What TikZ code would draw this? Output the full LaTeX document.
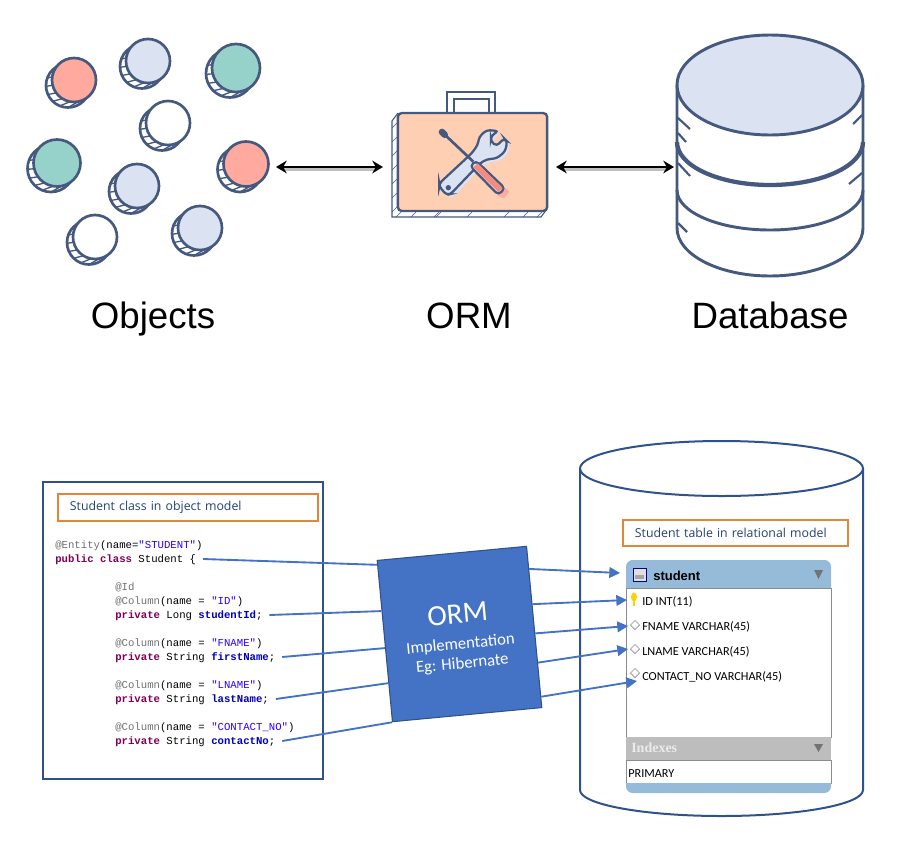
\documentclass[tikz,border=0pt]{standalone}
\usepackage{fontspec}
\setmainfont{Liberation Sans}
\setmonofont{Liberation Mono}
\newfontfamily\uifont{Open Sans}
\newfontfamily\slidefont{Carlito}
\newfontfamily\idxfont{Liberation Serif}
\usetikzlibrary{shapes.geometric, arrows.meta, calc}
\definecolor{sketch}{HTML}{45597F}
\definecolor{peri}{HTML}{DBE2F2}
\definecolor{salmon}{HTML}{FFA99F}
\definecolor{tealc}{HTML}{96D1CA}
\definecolor{peach}{HTML}{FFCFB3}
\definecolor{redh}{HTML}{F58A7F}
\definecolor{navy}{HTML}{2F528F}
\definecolor{ormblue}{HTML}{4472C4}
\definecolor{boxorange}{HTML}{E0873C}
\definecolor{hdrblue}{HTML}{96BBD9}
\definecolor{idxgrey}{HTML}{BDBDBD}
\definecolor{codekw}{HTML}{7F0055}
\definecolor{codestr}{HTML}{2A00FF}
\definecolor{codefld}{HTML}{0000C0}
\definecolor{codeann}{HTML}{707070}
\tikzstyle{coinline} = [draw=sketch, line width=2pt]
\tikzstyle{dbline} = [draw=sketch, line width=2.2pt]
\tikzstyle{title} = [font=\fontsize{27.5}{30}\selectfont, inner sep=0, anchor=base]
\tikzstyle{bigarrow} = [line width=2pt, {Stealth[length=8pt,width=9.5pt]}-{Stealth[length=8pt,width=9.5pt]}]
\tikzstyle{arrowshade} = [line width=2.4pt, black!25]
\tikzstyle{casebox} = [rectangle, rounded corners=3pt, draw=sketch, line width=1.8pt, fill=peach, minimum width=112pt, minimum height=73.5pt, inner sep=0]
\tikzstyle{ormbox} = [rectangle, draw=navy, line width=0.8pt, fill=ormblue, text=white, align=center, minimum width=112.5pt, minimum height=121.5pt, inner sep=0, rotate=5.4, font=\slidefont\fontsize{12.5}{14.5}\selectfont]
\tikzstyle{notebox} = [rectangle, draw=boxorange, line width=1.4pt, fill=white, minimum height=20pt, text=navy!80!black, anchor=west, inner sep=0, align=left, font=\uifont\fontsize{9.25}{11}\selectfont]
\tikzstyle{codeline} = [anchor=west, inner sep=0, text height=6pt, text depth=1.5pt, font=\ttfamily\fontsize{8}{10}\selectfont]
\tikzstyle{rowtext} = [anchor=west, inner sep=0, text height=6.5pt, text depth=1.5pt, font=\slidefont\fontsize{9.2}{10}\selectfont]
\tikzstyle{link} = [draw=ormblue, line width=1.4pt]
\tikzstyle{linkarrow} = [link, -{Triangle[length=8pt,width=8pt]}]
\tikzstyle{keymark} = [diamond, draw=black!45, fill=white, line width=0.5pt, minimum size=7pt, inner sep=0]
\newcommand{\kw}[1]{\textcolor{codekw}{\textbf{#1}}}
\newcommand{\fld}[1]{\textcolor{codefld}{\textbf{#1}}}
\newcommand{\ann}[1]{\textcolor{codeann}{#1}}
\newcommand{\strg}[1]{\textcolor{codestr}{#1}}
\newcommand{\coin}[4]{
  \begin{scope}[shift={(#1,#2)}]
  \draw [coinline, fill=white] (-6,5.5) circle (#3);
  \foreach \a in {90,112,...,200}
    \draw [draw=sketch, line width=1pt] ({-6+#3*cos(\a)},{5.5+#3*sin(\a)}) -- ({#3*cos(\a-12)},{#3*sin(\a-12)});
  \draw [coinline, fill=#4] (0,0) circle (#3);
  \end{scope}
}
\newcommand{\wrenchshape}{(28,190) -- (125,100) -- (143,75) -- (148,50) -- (170,30) -- (205,33) -- (183,48) -- (183,65) -- (200,78) -- (222,55) -- (232,65) -- (225,95) -- (200,115) -- (170,118) -- (150,130) -- (62,222) -- (50,225) -- (28,200) -- cycle}

\begin{document}
\begin{tikzpicture}[x=0.75pt, y=-0.75pt]
\useasboundingbox (0,0) rectangle (900,850);
% objects
\coin{74}{80}{22}{salmon}
\coin{148}{61}{22}{peri}
\coin{236}{68}{24}{tealc}
\coin{168}{123}{22}{white}
\coin{57}{163}{23.5}{tealc}
\coin{246}{164}{22.5}{salmon}
\coin{137}{186}{22}{peri}
\coin{95}{237}{22}{white}
\coin{200}{228}{22}{peri}

% toolbox
\draw [draw=sketch, line width=1.5pt, fill=white] (447,113) -- (447,92) -- (495,92) -- (495,113);
\draw [draw=sketch, line width=1.5pt] (454,113) -- (454,99) -- (489,99) -- (489,113);
\draw [draw=sketch, line width=0.8pt] (398,113) -- (392,121) -- (392,217) -- (541,217) -- (547,209);
\foreach \y in {128,142,...,212}
  \draw [draw=sketch, line width=0.5pt] (392,\y) -- (397,{\y-5});
\foreach \x in {396,411,434,436,467,504,523,537}
  \draw [draw=sketch, line width=0.5pt] (\x,217) -- ({\x+5},212);
\node (case) [casebox] at (472.5,162) {};
\begin{scope}[shift={(430,120)}, x=0.25pt, y=-0.25pt]
\fill [salmon] (190,175) -- (238,215) -- (222,235) -- (205,228) -- cycle;
\begin{scope}[shift={(8,8)}]
\fill [peri, rounded corners=3pt] \wrenchshape;
\end{scope}
\draw [draw=sketch, line width=1.7pt, fill=peri, rounded corners=2.5pt] \wrenchshape;
\fill [sketch] (55,203) circle (8);
\draw [draw=sketch, line width=2pt] (38,38) -- (130,125);
\draw [draw=sketch, line width=5pt, line cap=round] (36,36) -- (44,44);
\draw [draw=sketch, line width=1.7pt, fill=peri, rounded corners=3pt] (120,138) -- (138,122) -- (225,205) -- (205,225) -- cycle;
\fill [redh] (143,130) -- (218,205) -- (205,216) -- (130,142) -- cycle;
\end{scope}

% database
\draw [dbline, fill=white] (677,85) -- (677,228) arc[start angle=180, end angle=0, x radius=93, y radius=48] -- (863,85);
\draw [dbline] (677,190) arc[start angle=180, end angle=0, x radius=93, y radius=40];
\draw [draw=sketch, line width=3.2pt] (677,142) arc[start angle=180, end angle=0, x radius=93, y radius=43];
\draw [dbline, fill=peri] (770,85) ellipse [x radius=93, y radius=50];
\foreach \x/\y/\u/\v in {678/118/690/129, 678/133/686/142, 678/163/690/176, 678/223/687/232, 862/115/853/124, 862/173/849/184}
  \draw [draw=sketch, line width=1.6pt] (\x,\y) -- (\u,\v);

% arrows on top
\coordinate (objr) at (276,167);
\coordinate (casel) at (383,167);
\coordinate (caser) at (556,167);
\coordinate (dbl) at (674,167);
\draw [arrowshade] ([shift={(8,2.5)}]objr) -- ([shift={(-8,2.5)}]casel);
\draw [arrowshade] ([shift={(8,2.5)}]caser) -- ([shift={(-8,2.5)}]dbl);
\draw [bigarrow] (objr) -- (casel);
\draw [bigarrow] (caser) -- (dbl);

\node (objects) [title] at (153,328) {Objects};
\node (orm) [title] at (469,328) {ORM};
\node (database) [title] at (770,328) {Database};

% class side
\draw [draw=navy, line width=1.4pt] (43,482) rectangle (323,779);
\node (classnote) [notebox, minimum width=195pt, text width=177pt] at (57,507.5) {Student class in object model};
\node (l1) [codeline] at (55,545) {\ann{@Entity}(name=\strg{"STUDENT"})};
\node (codeclass) [codeline] at (55,559) {\kw{public} \kw{class} Student \{};
\node (l2) [codeline] at (115,587) {\ann{@Id}};
\node (l3) [codeline] at (115,601) {\ann{@Column}(name = \strg{"ID"})};
\node (codeid) [codeline] at (115,615) {\kw{private} Long \fld{studentId};};
\node (l4) [codeline] at (115,643) {\ann{@Column}(name = \strg{"FNAME"})};
\node (codefirst) [codeline] at (115,657) {\kw{private} String \fld{firstName};};
\node (l5) [codeline] at (115,685) {\ann{@Column}(name = \strg{"LNAME"})};
\node (codelast) [codeline] at (115,699) {\kw{private} String \fld{lastName};};
\node (l6) [codeline] at (115,727) {\ann{@Column}(name = \strg{"CONTACT\_NO"})};
\node (codecontact) [codeline] at (115,741) {\kw{private} String \fld{contactNo};};

% table side
\draw [draw=navy, line width=1.5pt] (580,468.5) -- (580,790) arc[start angle=180, end angle=0, x radius=141.5, y radius=26] -- (863,468.5);
\draw [draw=navy, line width=1.5pt] (721.5,468.5) ellipse [x radius=141.5, y radius=27.5];
\node (tablenote) [notebox, minimum width=168.75pt, text width=150.75pt] at (622,533) {Student table in relational model};

\fill [hdrblue] (626,588) [rounded corners=5pt] -- (626,560) -- (831,560) [sharp corners] -- (831,588) -- cycle;
\draw [draw=black!45, line width=0.6pt, fill=white] (626,588) rectangle (831,737);
\fill [idxgrey] (626,737) rectangle (831,760);
\draw [draw=black!45, line width=0.6pt, fill=white] (626,760) rectangle (831,783);
\fill [hdrblue] (626,783) [rounded corners=5pt] -- (626,793) -- (831,793) [sharp corners] -- (831,783) -- cycle;
\fill [black!55] (814,570) -- (823,570) -- (818.5,579) -- cycle;
\fill [black!55] (814,744) -- (823,744) -- (818.5,752) -- cycle;
\draw [draw=blue!60!black, line width=0.7pt, fill=black!12] (633,568) rectangle (646,581);
\fill [black!35] (635,575) rectangle (644,579);
\node (tablename) [anchor=west, inner sep=0, font=\bfseries\fontsize{9.75}{11}\selectfont] at (653,575.5) {student};
\fill [yellow!70!orange] (634,597) ellipse [x radius=3, y radius=4.5];
\fill [yellow!70!orange] (632.8,600) rectangle (635.2,606);
\node (rowid) [rowtext] at (642,602) {ID INT(11)};
\node (markfirst) [keymark] at (635,625) {};
\node (rowfirst) [rowtext] at (642,627) {FNAME VARCHAR(45)};
\node (marklast) [keymark] at (635,649) {};
\node (rowlast) [rowtext] at (642,652) {LNAME VARCHAR(45)};
\node (markcontact) [keymark] at (635,673) {};
\node (rowcontact) [rowtext] at (642,677) {CONTACT\_NO VARCHAR(45)};
\node (indexes) [anchor=west, inner sep=0, text=white!92!black, font=\idxfont\bfseries\fontsize{10.5}{12}\selectfont] at (631,748) {Indexes};
\node (primary) [rowtext] at (628,774) {PRIMARY};

% mapping box and connectors
\node (ormbox) [ormbox] at (459.5,634) {\rule{0pt}{20pt}{\fontsize{22}{24}\selectfont ORM}\\[5pt]Implementation\\Eg: Hibernate};
\foreach \src/\pos in {codeclass/.03, codeid/.315, codefirst/.543, codelast/.759, codecontact/1}
  \draw [link] ([xshift=5pt]\src.east) -- ($(ormbox.north west)!\pos!(ormbox.south west)$);
\coordinate (toname) at (620,573);
\coordinate (toid) at (627,600);
\coordinate (tofirst) at (628,626);
\coordinate (tolast) at (628,649);
\coordinate (tocontact) at (637,681);
\foreach \dst/\pos in {toname/.143, toid/.36, tofirst/.54, tolast/.72, tocontact/.93}
  \draw [linkarrow] ($(ormbox.north east)!\pos!(ormbox.south east)$) -- (\dst);
\end{tikzpicture}
\end{document}
